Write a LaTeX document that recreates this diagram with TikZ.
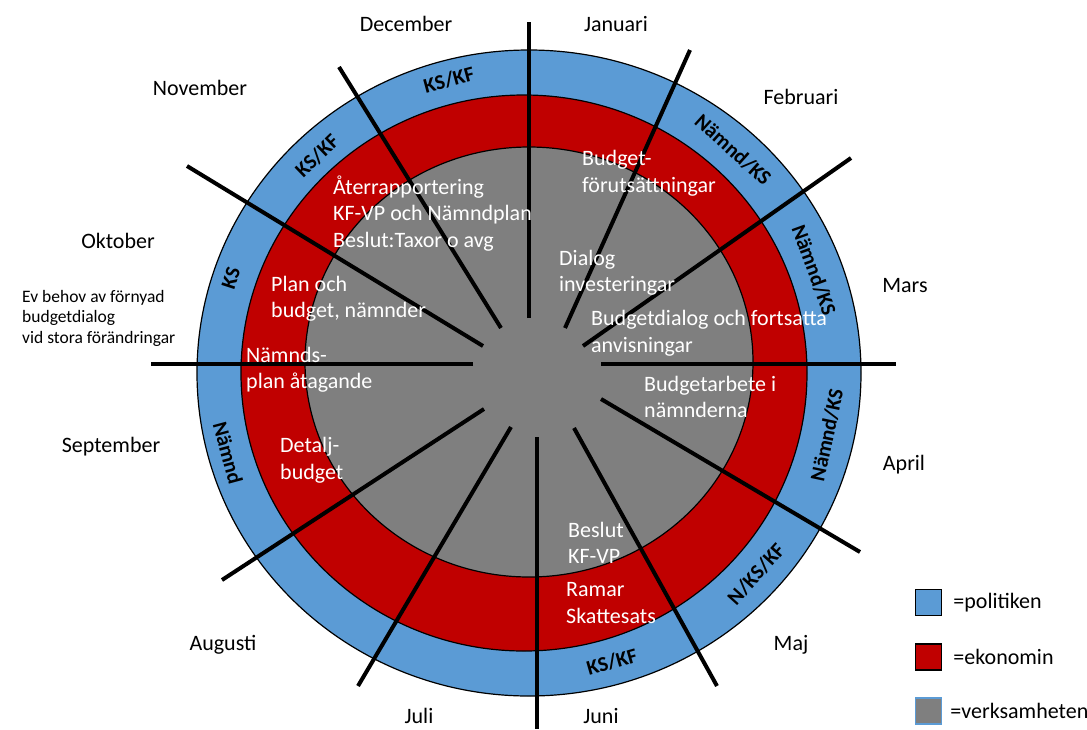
\documentclass[tikz,border=0pt]{standalone}
\usepackage{fontspec}
\setmainfont{Carlito}
\usetikzlibrary{positioning}

\definecolor{politik}{HTML}{5B9BD5}
\definecolor{ekonomi}{HTML}{C00000}
\definecolor{verksam}{HTML}{7F7F7F}

\tikzset{
    month/.style={inner sep=0pt, font=\fontsize{22}{26}\selectfont},
    ringlabel/.style={inner sep=0pt, font=\fontsize{21}{24}\selectfont\bfseries},
    insidetext/.style={inner sep=0pt, text=white, align=left, anchor=west,
        font=\fontsize{22}{26.5}\selectfont},
    spoke/.style={line width=4pt},
    legendbox/.style={draw=black, line width=1.5pt, minimum size=26pt, inner sep=0pt},
    legendtext/.style={inner sep=0pt, font=\fontsize{22}{26}\selectfont},
}

\begin{document}
\begin{tikzpicture}[x=1pt, y=-1pt]
    \useasboundingbox (0,0) rectangle (1087,729);

    % the three rings
    \filldraw[fill=politik, line width=1.2pt] (529,373) ellipse [x radius=332pt, y radius=323pt];
    \filldraw[fill=ekonomi, line width=1.2pt] (524,373) ellipse [x radius=283pt, y radius=278pt];
    \filldraw[fill=verksam, line width=1.2pt] (529,362) ellipse [x radius=224pt, y radius=215pt];

    % month borders
    \foreach \xa/\ya/\xb/\yb in {529/318/529/22, 565/328/690/50, 583/346/851/158,
        601/364/896/364, 601/399/860/552, 574/428/717/686, 537/437/537/729,
        511/427/358/686, 484/409/222/580, 473/364/151/364, 483/346/187/166,
        501/328/339/67}
        \draw[spoke] (\xa,\ya) -- (\xb,\yb);

    % months
    \node[month] (dec) at (406,24) {December};
    \node[month] (jan) at (616,24) {Januari};
    \node[month] (nov) at (200,88) {November};
    \node[month] (feb) at (801,97) {Februari};
    \node[month] (okt) at (118,241) {Oktober};
    \node[month] (mar) at (905,286) {Mars};
    \node[month] (sep) at (111,447) {September};
    \node[month] (apr) at (904,465) {April};
    \node[month] (aug) at (223,645) {Augusti};
    \node[month] (maj) at (791,645) {Maj};
    \node[month] (jul) at (419,716) {Juli};
    \node[month] (jun) at (601,716) {Juni};

    \node[inner sep=0pt, align=left, anchor=west, font=\fontsize{17.5}{20.5}\selectfont]
        (evbehov) at (22,318) {Ev behov av förnyad\\budgetdialog\\vid stora förändringar};

    % politiken (outer ring)
    \node[ringlabel, rotate=15] (rdec) at (449,80) {KS/KF};
    \node[ringlabel, rotate=44] (rnov) at (317,156) {KS/KF};
    \node[ringlabel, rotate=72] (rokt) at (231,278) {KS};
    \node[ringlabel, rotate=-75] (rsep) at (228,453) {Nämnd};
    \node[ringlabel, rotate=-42] (rfeb) at (733,150) {Nämnd/KS};
    \node[ringlabel, rotate=-70] (rmar) at (814,270) {Nämnd/KS};
    \node[ringlabel, rotate=78] (rapr) at (827,435) {Nämnd/KS};
    \node[ringlabel, rotate=48] (rmaj) at (756,574) {N/KS/KF};
    \node[ringlabel, rotate=16] (rjun) at (612,662) {KS/KF};

    % ekonomin and verksamheten
    \node[insidetext] (aterr) at (333,213.5) {Återrapportering\\KF-VP och Nämndplan\\Beslut:Taxor o avg};
    \node[insidetext] (forut) at (582,173) {Budget-\\förutsättningar};
    \node[insidetext] (dialog) at (559,272.5) {Dialog\\investeringar};
    \node[insidetext] (plan) at (271,298.5) {Plan och\\budget, nämnder};
    \node[insidetext] (bdialog) at (591,333) {Budgetdialog och fortsatta\\anvisningar};
    \node[insidetext] (namnds) at (246,369.5) {Nämnds-\\plan åtagande};
    \node[insidetext] (barbete) at (644,397) {Budgetarbete i\\nämnderna};
    \node[insidetext] (detalj) at (280,460) {Detalj-\\budget};
    \node[insidetext] (beslut) at (568,543) {Beslut\\KF-VP};
    \node[insidetext] (ramar) at (566,603) {Ramar\\Skattesats};

    % legend
    \node[legendbox, fill=politik] (legpol) at (928.5,602.5) {};
    \node[legendbox, fill=ekonomi] (legeko) at (928.5,657) {};
    \node[legendbox, fill=verksam, draw=politik] (legverk) at (928.5,711) {};
    \node[legendtext, right=11pt of legpol] (tpol) {=politiken};
    \node[legendtext, right=11pt of legeko] (teko) {=ekonomin};
    \node[legendtext, right=8pt of legverk] (tverk) {=verksamheten};
\end{tikzpicture}
\end{document}
